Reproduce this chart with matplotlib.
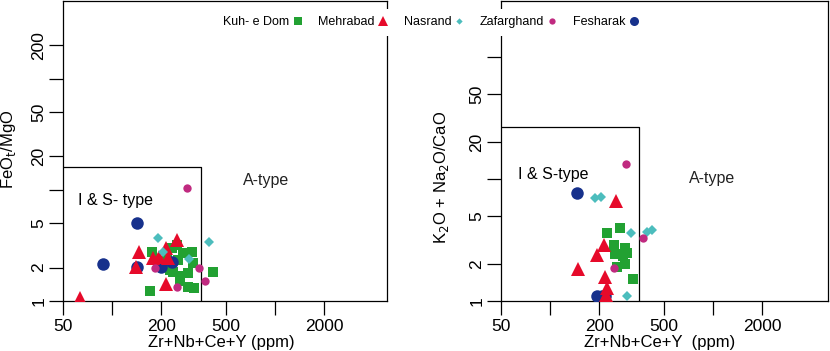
import matplotlib
matplotlib.use("Agg")
import matplotlib.pyplot as plt
from matplotlib.lines import Line2D
from matplotlib.ticker import NullLocator

plt.rcParams["font.family"] = ["Liberation Sans", "DejaVu Sans"]

# --- data: FeOt/MgO panel -------------------------------------------------
kuh_x1 = [171, 318, 292, 416, 262, 292, 226, 313, 272, 309, 175, 233, 250, 254, 217, 262, 236]
kuh_y1 = [1.23, 1.31, 1.34, 1.83, 1.68, 1.79, 1.9, 2.2, 2.7, 2.77, 2.77, 3.0, 3.2, 2.34, 2.44, 1.51, 1.83]
fes_x1 = [142, 88, 142, 200, 233]
fes_y1 = [5.04, 2.15, 2.02, 2.02, 2.25]
meh_x1 = [63.6, 146, 140, 178, 194, 214, 220, 250, 214]
meh_y1 = [1.06, 2.77, 2.02, 2.44, 2.5, 3.0, 2.44, 3.54, 1.42]
nas_x1 = [191, 205, 296, 393]
nas_y1 = [3.7, 2.77, 2.39, 3.4]
zaf_x1 = [288, 183, 341, 372, 250]
zaf_y1 = [10.4, 1.98, 1.98, 1.51, 1.34]

# --- data: K2O+Na2O/CaO panel ---------------------------------------------
kuh_x2 = [223, 268, 246, 288, 296, 250, 280, 288, 258, 321]
kuh_y2 = [3.61, 3.96, 2.88, 2.72, 2.47, 2.43, 2.34, 2.01, 1.9, 1.51]
fes_x2 = [146, 195, 208, 216]
fes_y2 = [7.67, 1.1, 1.1, 1.1]
meh_x2 = [254, 148, 195, 214, 217, 223, 220]
meh_y2 = [6.6, 1.83, 2.38, 2.88, 1.57, 1.28, 1.12]
nas_x2 = [189, 205, 314, 393, 423, 297]
nas_y2 = [7.0, 7.1, 3.6, 3.7, 3.8, 1.1]
zaf_x2 = [292, 372, 246]
zaf_y2 = [13.2, 3.28, 1.86]

# boundary of the I & S field
box_x = [50, 350, 350]
box_y1 = [16, 16, 1]
box_y2 = [27, 27, 1]

xticks = [50, 100, 200, 500, 1000, 2000]
xlabels = ["50", "", "200", "500", "", "2000"]
yticks1 = [1, 2, 5, 10, 20, 50, 100, 200]
ylabels1 = ["1", "2", "5", "", "20", "50", "", "200"]
yticks2 = [1, 2, 5, 10, 20, 50, 100]
ylabels2 = ["1", "2", "5", "", "20", "50", ""]

names = ["Kuh- e Dom", "Mehrabad", "Nasrand", "Zafarghand", "Fesharak"]
GREEN = "#22a132"
RED = "#e60a2a"
TEAL = "#4cbdbd"
MAG = "#c02a80"
NAVY = "#17318c"

W, H = 830, 351
fig = plt.figure(figsize=(W / 100, H / 100), dpi=100)
fig.patch.set_facecolor("white")

ax1 = fig.add_axes([63 / W, 50 / H, 324 / W, 300 / H])
ax2 = fig.add_axes([501 / W, 50 / H, 327 / W, 300 / H])


def draw_panel(ax, kx, ky, fx, fy, mx, my, nx, ny, zx, zy, by, xmax, ymax):
    ax.set_xscale("log")
    ax.set_yscale("log")
    ax.plot(kx, ky, "s", color=GREEN, ms=7.4, mew=0, zorder=3)
    ax.plot(fx, fy, "o", color=NAVY, ms=9, mew=0, zorder=3)
    ax.plot(mx, my, "^", color=RED, ms=10, mew=0, zorder=4)
    ax.plot(nx, ny, "D", color=TEAL, ms=5.6, mew=0, zorder=5)
    ax.plot(zx, zy, "o", color=MAG, ms=6, mew=0, zorder=5)
    ax.plot(box_x, by, color="black", lw=0.9, zorder=2)
    ax.set_xlim(50, xmax)
    ax.set_ylim(1, ymax)
    for s in ax.spines.values():
        s.set_linewidth(0.9)
    ax.tick_params(axis="both", length=10, width=0.9, labelsize=12.5)
    ax.tick_params(axis="x", pad=3)
    ax.tick_params(axis="y", pad=2)


draw_panel(ax1, kuh_x1, kuh_y1, fes_x1, fes_y1, meh_x1, meh_y1,
           nas_x1, nas_y1, zaf_x1, zaf_y1, box_y1, 4870, 500)
draw_panel(ax2, kuh_x2, kuh_y2, fes_x2, fes_y2, meh_x2, meh_y2,
           nas_x2, nas_y2, zaf_x2, zaf_y2, box_y2, 5070, 290)

for ax, yt, yl in [(ax1, yticks1, ylabels1), (ax2, yticks2, ylabels2)]:
    ax.set_xticks(xticks)
    ax.set_xticklabels(xlabels)
    ax.set_yticks(yt)
    ax.set_yticklabels(yl, rotation=90, va="center")
    ax.xaxis.set_minor_locator(NullLocator())
    ax.yaxis.set_minor_locator(NullLocator())

# field labels
ax1.text(0.045, 0.32, "I & S- type", transform=ax1.transAxes, fontsize=11.5)
ax1.text(0.555, 0.385, "A-type", transform=ax1.transAxes, fontsize=11.5,
         color="#222222")
ax2.text(0.052, 0.405, "I & S-type", transform=ax2.transAxes, fontsize=11.5)
ax2.text(0.575, 0.395, "A-type", transform=ax2.transAxes, fontsize=11.5,
         color="#222222")

# axis titles
fig.text(221 / W, 1 - 343 / H, "Zr+Nb+Ce+Y (ppm)", ha="center", va="center",
         fontsize=12)
fig.text(660 / W, 1 - 343 / H, "Zr+Nb+Ce+Y  (ppm)", ha="center", va="center",
         fontsize=12)
fig.text(9 / W, 1 - 149 / H, "FeO$_\\mathrm{t}$/MgO", ha="center", va="center",
         rotation=90, fontsize=12)
fig.text(441 / W, 1 - 177 / H, "K$_\\mathrm{2}$O + Na$_\\mathrm{2}$O/CaO",
         ha="center", va="center", rotation=90, fontsize=12)

# legend across the top
handles = [
    Line2D([], [], ls="none", marker="s", color=GREEN, ms=5.5, mew=0),
    Line2D([], [], ls="none", marker="^", color=RED, ms=6.5, mew=0),
    Line2D([], [], ls="none", marker="D", color=TEAL, ms=3.2, mew=0),
    Line2D([], [], ls="none", marker="o", color=MAG, ms=4.5, mew=0),
    Line2D([], [], ls="none", marker="o", color=NAVY, ms=6.5, mew=0),
]
leg = fig.legend(handles, names, ncol=5, markerfirst=False, fontsize=9,
                 loc="center", bbox_to_anchor=(431 / W, 1 - 22 / H),
                 frameon=True, fancybox=False, borderpad=0.6,
                 handlelength=0.8, handletextpad=0.25, columnspacing=1.25)
leg.get_frame().set_facecolor("white")
leg.get_frame().set_edgecolor("none")
leg.get_frame().set_alpha(1)

fig.savefig("out.png", dpi=100, facecolor="white")
